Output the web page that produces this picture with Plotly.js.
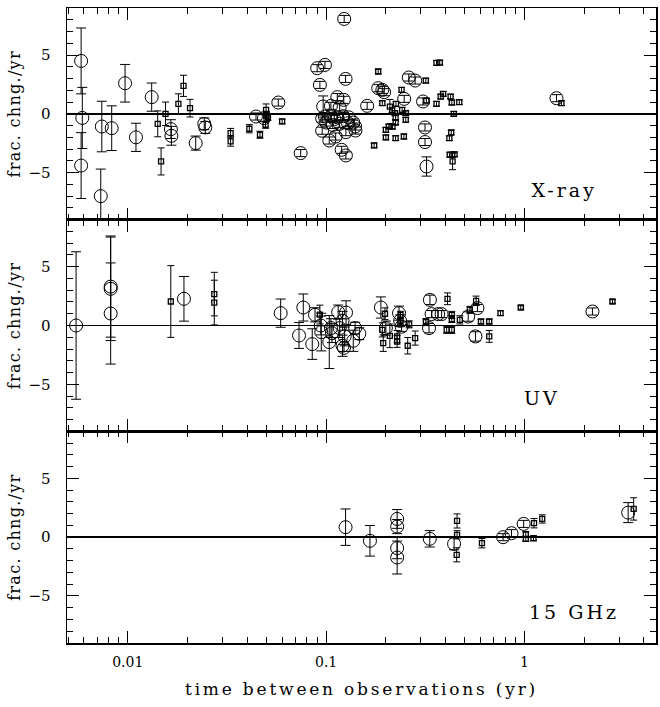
<!DOCTYPE html>
<html>
<head>
<meta charset="utf-8">
<script src="https://cdn.plot.ly/plotly-3.0.1.min.js"></script>
<style>
html,body{margin:0;padding:0;background:#fff;}
#chart{width:660px;height:707px;}
#chart .g-x3title text{letter-spacing:2.8px;}
#chart .g-ytitle text,#chart .g-y2title text,#chart .g-y3title text{letter-spacing:1.3px;}
#chart .annotation-text{letter-spacing:3px;}
</style>
</head>
<body>
<div id="chart"></div>
<script>
// ---------- X-ray panel ----------
const xrayCircX = [0.00582,0.00590,0.00582,0.00731,0.00740,0.0083,0.00969,0.0110,0.0132,0.0165,0.0166,0.0220,0.0243,0.0246,0.0443,0.0486,0.0574,0.0744,0.0901,0.0986,0.093,0.1233,0.1253,0.0966,0.1138,0.1227,0.1057,0.117,0.0985,0.1060,0.1140,0.1220,0.0955,0.1100,0.1300,0.1000,0.1080,0.1170,0.1290,0.1370,0.1400,0.1405,0.0955,0.1117,0.1037,0.1258,0.1197,0.1258,0.161,0.183,0.192,0.196,0.2474,0.261,0.281,0.308,0.315,0.315,0.3207,1.449];
const xrayCircY = [4.5,-0.35,-4.4,-7.0,-1.08,-1.22,2.6,-2.0,1.42,-1.3,-1.87,-2.49,-0.85,-1.16,-0.23,-0.37,0.96,-3.34,3.88,4.16,2.46,8.07,2.97,0.62,1.42,1.19,0.68,0.54,-0.23,-0.23,-0.3,-0.2,-0.4,-0.45,-0.3,-0.74,-0.95,-0.85,-0.8,-0.74,-1.08,-1.42,-1.44,-1.93,-2.27,-1.56,-3.06,-3.54,0.68,2.18,2.04,1.84,1.27,3.09,2.83,1.05,-1.16,-2.4,-4.48,1.33];
const xrayCircErr = [2.8,2.6,2.8,2.3,2.15,1.9,1.6,1.2,1.2,0.8,0.8,0.6,0.5,0.5,0.3,0.3,0.3,0.3,0.3,0.3,0.3,0.3,0.3,0.9,0.3,0.3,0.3,0.3,0.3,0.3,0.3,0.3,0.3,0.3,0.3,0.3,0.3,0.3,0.3,0.3,0.3,0.3,0.3,0.3,0.3,0.3,0.3,0.3,0.3,0.3,0.3,0.3,0.3,0.3,0.3,0.3,0.3,0.3,0.82,0.3];
const xraySqX = [0.01416,0.01472,0.0155,0.0180,0.0191,0.0206,0.0330,0.0330,0.0410,0.0464,0.0498,0.0500,0.0495,0.0509,0.060,0.183,0.192,0.2095,0.215,0.225,0.222,0.224,0.224,0.216,0.207,0.200,0.200,0.224,0.2465,0.2415,0.252,0.1745,0.24,0.252,0.318,0.360,0.374,0.32,0.36,0.378,0.389,0.424,0.43,0.469,0.44,0.427,0.418,0.420,0.432,0.444,0.434,1.535];
const xraySqY = [-0.85,-4.05,0.0,0.85,2.38,0.48,-1.64,-2.35,-1.27,-1.78,0.34,-0.08,-0.93,-0.26,-0.65,3.6,0.91,0.62,0.3,0.85,0.06,-0.28,-0.74,-1.08,-1.08,-1.36,-2.01,-2.07,-1.93,0.33,0.06,-2.69,2.04,-0.51,2.83,4.33,4.36,1.13,0.85,1.47,1.7,1.47,0.96,0.99,0.0,-1.59,-2.07,-3.48,-3.48,-3.45,-4.05,0.91];
const xraySqErr = [1.1,1.15,1.0,0.85,0.9,0.75,0.4,0.4,0.35,0.3,0.5,0.3,0.3,0.3,0.2,0.2,0.2,0.6,0.2,0.2,0.2,0.2,0.2,0.2,0.2,0.2,0.2,0.2,0.2,0.2,0.2,0.2,0.2,0.2,0.2,0.2,0.2,0.2,0.2,0.2,0.2,0.2,0.2,0.2,0.2,0.2,0.2,0.2,0.2,0.2,0.7,0.2];

// ---------- UV panel ----------
const uvCircX = [0.00549,0.0082,0.0082,0.0082,0.0192,0.059,0.073,0.0767,0.0851,0.0879,0.094,0.0945,0.1037,0.1058,0.107,0.115,0.117,0.121,0.121,0.126,0.124,0.123,0.137,0.14,0.147,0.1888,0.20,0.233,0.236,0.24,0.3335,0.33,0.34,0.367,0.382,0.52,0.566,0.579,2.20];
const uvCircY = [0,3.31,3.12,1.02,2.27,1.05,-0.85,1.53,-1.58,0.91,0.0,-0.56,-1.41,-0.22,-0.65,1.14,-0.22,0.4,-1.72,1.1,-0.93,-1.9,-1.3,-0.22,-0.7,1.53,-0.22,1.05,0.4,-0.1,2.18,-0.22,0.97,0.97,0.97,0.76,-0.93,1.48,1.19];
const uvCircErr = [6.27,4.3,4.4,4.3,1.9,1.2,1.1,1.15,1.3,0.6,0.8,1.6,2.25,0.8,0.8,0.6,0.8,0.8,0.9,1.0,0.8,0.3,0.9,0.5,0.5,0.9,0.6,0.6,0.5,0.4,0.4,0.4,0.3,0.3,0.3,0.4,0.4,0.3,0.3];
const uvSqX = [0.01648,0.0273,0.0273,0.093,0.198,0.192,0.194,0.2095,0.228,0.228,0.237,0.237,0.2577,0.262,0.281,0.318,0.409,0.43,0.43,0.405,0.43,0.472,0.53,0.57,0.603,0.664,0.664,0.757,0.958,2.776];
const uvSqY = [2.04,2.67,1.95,0.93,1.0,-0.37,-1.5,-0.88,-0.93,-1.36,0.91,0.4,-1.72,0.1,-1.07,0.29,2.27,0.9,0.55,-0.37,-0.37,0.48,1.33,2.1,0.34,0.34,-0.93,1.05,1.53,2.04];
const uvSqErr = [3.05,1.85,1.9,0.8,0.5,0.6,0.7,1.0,0.5,0.5,0.3,0.3,0.7,0.3,0.6,0.3,0.5,0.3,0.3,0.3,0.3,0.35,0.3,0.4,0.2,0.2,0.5,0.2,0.15,0.15];

// ---------- 15 GHz panel ----------
const radioCircX = [0.1253,0.1663,0.228,0.228,0.228,0.228,0.333,0.4415,0.78,0.86,0.99,3.33];
const radioCircY = [0.85,-0.31,1.55,0.9,-0.93,-1.73,-0.14,-0.57,0.0,0.34,1.13,2.09];
const radioCircErr = [1.55,1.3,0.8,0.6,0.9,1.4,0.7,0.5,0.3,0.3,0.3,0.85];
const radioSqX = [0.457,0.457,0.455,0.61,1.015,1.015,1.117,1.11,1.228,3.55];
const radioSqY = [1.38,0.2,-1.5,-0.51,0.25,-0.14,1.19,-0.09,1.55,2.4];
const radioSqErr = [0.6,0.35,0.6,0.4,0.2,0.2,0.4,0.2,0.35,0.95];

// ---------- labels / ticks ----------
const panelLabels = ["X-ray", "UV", "15 GHz"];
const yTitle = "frac. chng./yr";
const xTitle = "time between observations (yr)";
const xMajorTicks = [0.01, 0.1, 1];
const xMajorText = ["0.01", "0.1", "1"];
const xMinorTicks = [0.005,0.006,0.007,0.008,0.009,0.02,0.03,0.04,0.05,0.06,0.07,0.08,0.09,0.2,0.3,0.4,0.5,0.6,0.7,0.8,0.9,2,3,4];
const yMajorTicks = [-5, 0, 5];
const yMinorTicks = [-8,-7,-6,-4,-3,-2,-1,1,2,3,4,6,7,8];
const xRange = [0.00494, 4.6];
const yRange = [-9, 9];

const FONT = "DejaVu Serif, serif";

function circTrace(x, y, e, xa, ya) {
  return {x:x, y:y, xaxis:xa, yaxis:ya, type:'scatter', mode:'markers', showlegend:false,
    marker:{symbol:'circle-open', size:13, color:'black', line:{width:1, color:'black'}},
    error_y:{type:'data', array:e, visible:true, color:'black', thickness:1, width:5}};
}
function sqTrace(x, y, e, xa, ya) {
  return {x:x, y:y, xaxis:xa, yaxis:ya, type:'scatter', mode:'markers', showlegend:false,
    marker:{symbol:'square-open', size:5, color:'black', line:{width:1.3, color:'black'}},
    error_y:{type:'data', array:e, visible:true, color:'black', thickness:1, width:3.5}};
}

const data = [
  sqTrace(xraySqX, xraySqY, xraySqErr, 'x', 'y'),
  circTrace(xrayCircX, xrayCircY, xrayCircErr, 'x', 'y'),
  sqTrace(uvSqX, uvSqY, uvSqErr, 'x2', 'y2'),
  circTrace(uvCircX, uvCircY, uvCircErr, 'x2', 'y2'),
  sqTrace(radioSqX, radioSqY, radioSqErr, 'x3', 'y3'),
  circTrace(radioCircX, radioCircY, radioCircErr, 'x3', 'y3')
];

function xAxis(showLabels, anchor) {
  const a = {type:'log', range:[Math.log10(xRange[0]), Math.log10(xRange[1])], anchor:anchor,
    showline:true, linecolor:'black', linewidth:1.5, mirror:'ticks', showgrid:false, zeroline:false,
    ticks:'inside', ticklen:12, tickwidth:1, tickcolor:'black',
    tickmode:'array', tickvals:xMajorTicks, ticktext:xMajorText, showticklabels:showLabels,
    tickfont:{family:FONT, size:14, color:'black'}, ticklabelstandoff:6,
    minor:{tickmode:'array', tickvals:xMinorTicks, ticks:'inside', ticklen:6, tickwidth:1, tickcolor:'black', showgrid:false}};
  if (showLabels) a.title = {text:xTitle, font:{family:FONT, size:17, color:'black'}, standoff:14};
  return a;
}
function yAxis(domain, anchor) {
  return {domain:domain, range:yRange, anchor:anchor,
    showline:true, linecolor:'black', linewidth:1.5, mirror:'ticks', showgrid:false,
    zeroline:true, zerolinecolor:'black', zerolinewidth:1.6,
    ticks:'inside', ticklen:12, tickwidth:1, tickcolor:'black',
    tickmode:'array', tickvals:yMajorTicks,
    tickfont:{family:FONT, size:15, color:'black'}, ticklabelstandoff:12,
    minor:{tickmode:'array', tickvals:yMinorTicks, ticks:'inside', ticklen:6, tickwidth:1, tickcolor:'black', showgrid:false},
    title:{text:yTitle, font:{family:FONT, size:16, color:'black'}, standoff:4}};
}

function label(text, x, y) {
  return {text:text, xref:'paper', yref:'paper', x:x, y:y, xanchor:'center', yanchor:'middle',
    showarrow:false, font:{family:FONT, size:19, color:'black'}};
}

const layout = {
  width:660, height:707,
  margin:{l:67, r:4, t:8, b:64},
  paper_bgcolor:'white', plot_bgcolor:'white',
  font:{family:FONT, color:'black'},
  xaxis: Object.assign(xAxis(false, 'y'), {matches:'x3'}),
  yaxis: yAxis([0.6667, 1], 'x'),
  xaxis2: Object.assign(xAxis(false, 'y2'), {matches:'x3'}),
  yaxis2: yAxis([0.3333, 0.6667], 'x2'),
  xaxis3: xAxis(true, 'y3'),
  yaxis3: yAxis([0, 0.3333], 'x3'),
  annotations: [
    label(panelLabels[0], 0.845, 0.714),
    label(panelLabels[1], 0.806, 0.386),
    label(panelLabels[2], 0.860, 0.049)
  ]
};

Plotly.newPlot('chart', data, layout, {displayModeBar:false, staticPlot:true});
</script>
</body>
</html>
